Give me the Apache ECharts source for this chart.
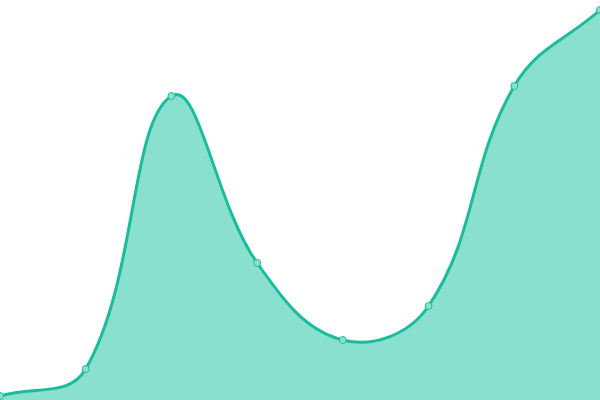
<!DOCTYPE html>
<html><head><meta charset="utf-8">
<script src="https://cdn.jsdelivr.net/npm/echarts@6/dist/echarts.min.js"></script>
<style>html,body{margin:0;padding:0;background:#fff}#c{width:600px;height:400px}</style>
</head><body><div id="c"></div>
<script>
const categories = ['1','2','3','4','5','6','7','8'];
const values = [4, 31, 304, 137, 60, 94, 314, 390];

const TENSION = 0.4;
function splinePath(pts) {
  const cps = pts.map((p, i) => {
    const prev = pts[i - 1] || p, next = pts[i + 1] || p;
    const d01 = Math.hypot(p[0] - prev[0], p[1] - prev[1]);
    const d12 = Math.hypot(next[0] - p[0], next[1] - p[1]);
    let s01 = d01 / (d01 + d12), s12 = d12 / (d01 + d12);
    if (!isFinite(s01)) s01 = 0; if (!isFinite(s12)) s12 = 0;
    const fa = TENSION * s01, fb = TENSION * s12;
    return {
      prev: [p[0] - fa * (next[0] - prev[0]), p[1] - fa * (next[1] - prev[1])],
      next: [p[0] + fb * (next[0] - prev[0]), p[1] + fb * (next[1] - prev[1])]
    };
  });
  let d = 'M' + pts[0][0] + ' ' + pts[0][1];
  for (let i = 1; i < pts.length; i++) {
    const a = cps[i - 1].next, b = cps[i].prev, p = pts[i];
    d += ' C' + a[0] + ' ' + a[1] + ' ' + b[0] + ' ' + b[1] + ' ' + p[0] + ' ' + p[1];
  }
  return d;
}

const chart = echarts.init(document.getElementById('c'));
chart.setOption({
  animation: false,
  grid: {left: 0, right: 0, top: 0, bottom: 0},
  xAxis: {type: 'category', data: categories, boundaryGap: false, show: false},
  yAxis: {type: 'value', min: 0, max: 400, show: false},
  series: [{
    type: 'custom',
    data: values.map((v, i) => [i, v]),
    renderItem: function (params, api) {
      if (params.dataIndex !== 0) return null;
      const pts = values.map((v, i) => api.coord([i, v]));
      const line = splinePath(pts);
      const b0 = api.coord([0, 0]), b1 = api.coord([values.length - 1, 0]);
      const area = line + ' L' + b1[0] + ' ' + b1[1] + ' L' + b0[0] + ' ' + b0[1] + ' Z';
      return {
        type: 'group',
        children: [
          {type: 'path', shape: {pathData: area}, style: {fill: '#8ae0cf', stroke: null}},
          {type: 'path', shape: {pathData: line}, style: {fill: null, stroke: '#1abc9c', lineWidth: 3}}
        ]
      };
    },
    z: 1
  }, {
    type: 'line',
    data: values,
    symbol: 'circle',
    symbolSize: 7,
    lineStyle: {width: 0, opacity: 0},
    itemStyle: {color: '#8ae0cf', borderColor: '#1abc9c', borderWidth: 1},
    z: 5
  }]
});
</script></body></html>
